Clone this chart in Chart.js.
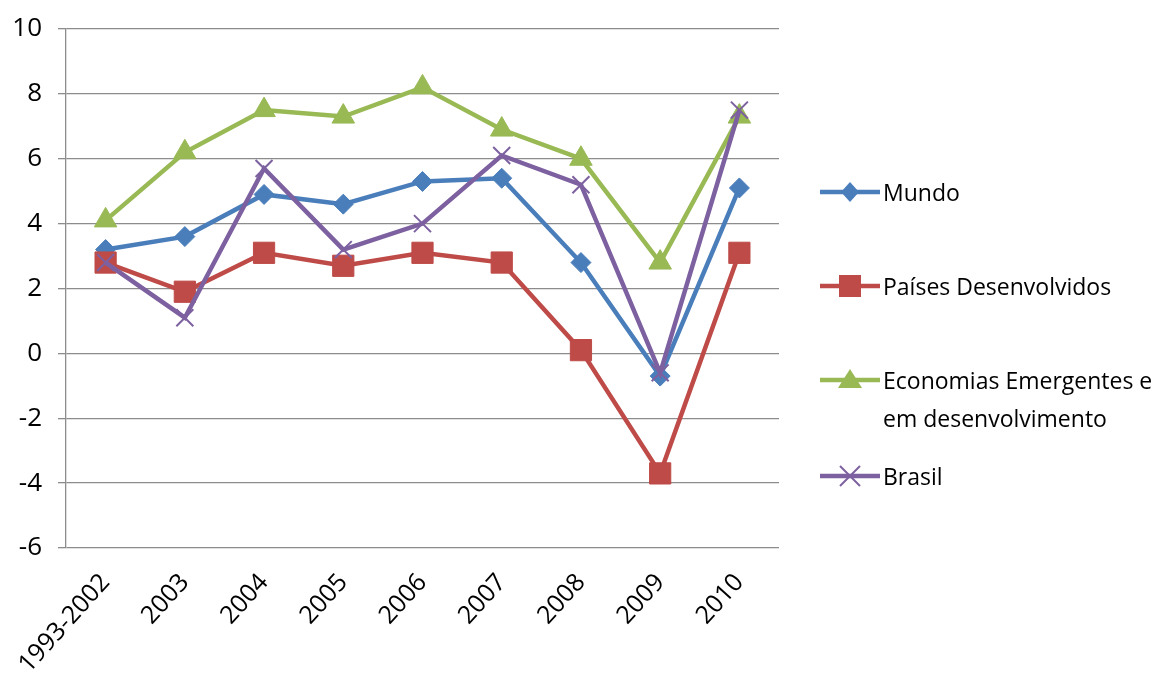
<!DOCTYPE html>
<html>
<head>
<meta charset="utf-8">
<script src="https://cdn.jsdelivr.net/npm/chart.js@4/dist/chart.umd.min.js"></script>
<style>
  html, body { margin: 0; padding: 0; background: #fff; }
  #wrap { position: relative; width: 1169px; height: 684px; }
  #legend { position: absolute; left: 820px; top: 0; font-family: "Open Sans", sans-serif; font-size: 23px; color: #000; }
  .item { position: absolute; left: 0; white-space: nowrap; line-height: 38px; }
  .item svg { position: absolute; left: 0; top: 7px; }
  .item span { position: absolute; left: 63px; top: 0; }
</style>
</head>
<body>
<div id="wrap">
  <canvas id="chart" width="1169" height="684"></canvas>
  <div id="legend"></div>
</div>
<script>
// grafico.js

const categorias = ["1993-2002", "2003", "2004", "2005", "2006", "2007", "2008", "2009", "2010"];
const mundo = [3.2, 3.6, 4.9, 4.6, 5.3, 5.4, 2.8, -0.7, 5.1];
const paisesDesenvolvidos = [2.8, 1.9, 3.1, 2.7, 3.1, 2.8, 0.1, -3.7, 3.1];
const economiasEmergentes = [4.1, 6.2, 7.5, 7.3, 8.2, 6.9, 6.0, 2.8, 7.3];
const brasil = [2.8, 1.1, 5.7, 3.2, 4.0, 6.1, 5.2, -0.6, 7.5];

const series = [
  { label: "Mundo", data: mundo, cor: "#4a7ebb", ponto: "rectRot", raio: 10, ordem: 4, top: 173 },
  { label: "Países Desenvolvidos", data: paisesDesenvolvidos, cor: "#be4b48", ponto: "rect", raio: 15, ordem: 3, top: 267 },
  { label: "Economias Emergentes e\nem desenvolvimento", data: economiasEmergentes, cor: "#98b954", ponto: "triangle", raio: 13, ordem: 2, top: 361 },
  { label: "Brasil", data: brasil, cor: "#7d60a0", ponto: "crossRot", raio: 12, ordem: 1, top: 457 },
];

const gridColor = "#8c8c8c";
const fonte = "'Open Sans', sans-serif";

new Chart(document.getElementById("chart"), {
  type: "line",
  data: {
    labels: categorias,
    datasets: series.map(function (s) {
      return {
        label: s.label,
        data: s.data,
        borderColor: s.cor,
        backgroundColor: s.cor,
        pointBackgroundColor: s.cor,
        pointBorderColor: s.cor,
        pointStyle: s.ponto,
        pointRadius: s.raio,
        pointBorderWidth: s.ponto === "crossRot" ? 2 : 1,
        borderWidth: 4.5,
        tension: 0,
        order: s.ordem,
      };
    }),
  },
  options: {
    responsive: false,
    animation: false,
    layout: { padding: { left: 0, top: 28, right: 390, bottom: 0 } },
    plugins: {
      legend: { display: false },
      tooltip: { enabled: false },
    },
    scales: {
      x: {
        offset: true,
        grid: { display: false },
        border: { display: false },
        ticks: {
          color: "#000",
          font: { family: fonte, size: 25 },
          minRotation: 48,
          maxRotation: 48,
          padding: 12,
        },
        afterFit: function (scale) { scale.height = 136; },
      },
      y: {
        min: -6,
        max: 10,
        grid: { color: gridColor, lineWidth: 1.3, tickLength: 8 },
        border: { display: true, color: gridColor, width: 1.3 },
        ticks: {
          stepSize: 2,
          color: "#000",
          font: { family: fonte, size: 26, lineHeight: 1 },
          padding: 16,
        },
        afterFit: function (scale) { scale.width = 66; },
      },
    },
  },
});

// legenda montada em HTML
function desenharMarcador(s) {
  var c = s.cor;
  var m = "";
  if (s.ponto === "rectRot") {
    m = '<polygon points="30,2 39,12 30,22 21,12" fill="' + c + '"/>';
  } else if (s.ponto === "rect") {
    m = '<rect x="19" y="1" width="22" height="22" fill="' + c + '"/>';
  } else if (s.ponto === "triangle") {
    m = '<polygon points="30,1 42,20 18,20" fill="' + c + '"/>';
  } else {
    m = '<line x1="20" y1="2" x2="40" y2="22" stroke="' + c + '" stroke-width="2"/>' +
        '<line x1="40" y1="2" x2="20" y2="22" stroke="' + c + '" stroke-width="2"/>';
  }
  return '<svg width="60" height="24"><line x1="0" y1="12" x2="60" y2="12" stroke="' + c +
    '" stroke-width="4.5" stroke-linecap="round"/>' + m + "</svg>";
}

var legend = document.getElementById("legend");
series.forEach(function (s) {
  var div = document.createElement("div");
  div.className = "item";
  div.style.top = s.top + "px";
  div.innerHTML = desenharMarcador(s) + "<span>" + s.label.replace("\n", "<br>") + "</span>";
  legend.appendChild(div);
});
</script>
</body>
</html>
